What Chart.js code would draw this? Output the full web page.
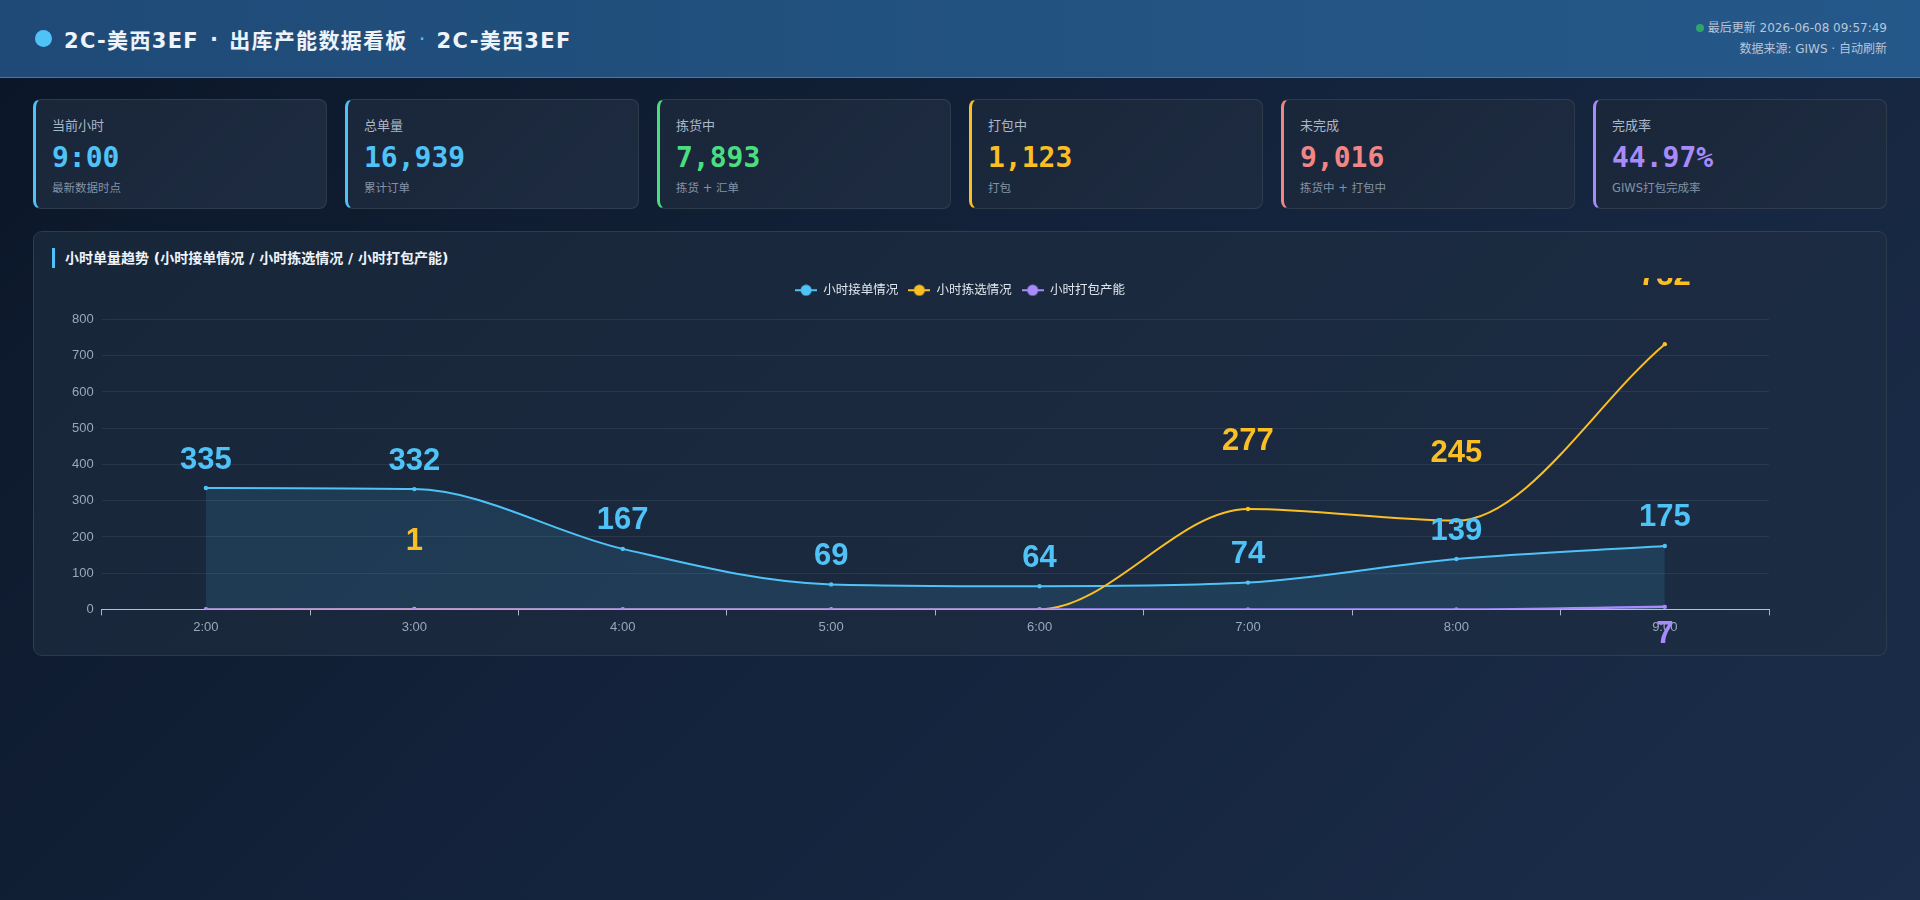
<!DOCTYPE html>
<html lang="zh-CN">
<head>
<meta charset="utf-8">
<title>出库产能数据看板</title>
<script src="https://cdn.jsdelivr.net/npm/chart.js@4.4.1/dist/chart.umd.min.js"></script>
<style>
  * { box-sizing: border-box; margin: 0; padding: 0; }
  html, body { width: 1920px; height: 900px; overflow: hidden; }
  body {
    font-family: "DejaVu Sans", "Noto Sans CJK SC", sans-serif;
    background: linear-gradient(135deg, #0b1627 0%, #13223a 45%, #1b2d4a 100%);
    color: #e2e8f0;
  }
  .header {
    height: 78px;
    background: linear-gradient(90deg, #1f4a78 0%, #22527f 50%, #25588a 100%);
    border-bottom: 1px solid rgba(120, 170, 220, 0.45);
    display: flex; align-items: center; justify-content: space-between;
    padding: 0 33px 0 35px;
  }
  .title { display: flex; align-items: center; font-size: 21px; font-weight: bold; color: #eef3f9; letter-spacing: 1.3px; }
  .title .dot { width: 17px; height: 17px; border-radius: 50%; background: #4fc3f7; margin-right: 12px; }
  .title .sep { font-weight: normal; margin: 0 10px 0 11px; }
  .title .sep1 { color: #e6edf5; font-weight: bold; }
  .title .sep2 { color: #4fc3f7; }
  .meta { text-align: right; font-size: 12px; color: #b7c6d8; line-height: 21px; margin-top: 0px; }
  .meta .g { display: inline-block; width: 8px; height: 8px; border-radius: 50%; background: #2fa56e; margin-right: 4px; vertical-align: 0px; }
  .cards { display: flex; gap: 18px; padding: 21px 33px 0 33px; }
  .card {
    width: 294px; height: 110px; border-radius: 8px;
    background: linear-gradient(135deg, #1a2639 0%, #1d2b41 100%);
    border: 1px solid rgba(255,255,255,0.09);
    border-left: 3px solid #4fc3f7;
    padding: 18px 0 0 16px;
  }
  .card .lab { font-size: 13px; line-height: 16px; color: #aab8c9; }
  .card .val { font-family: "DejaVu Sans Mono", monospace; font-weight: bold; font-size: 28px; line-height: 32px; margin-top: 8px; }
  .card .sub { font-size: 11.5px; line-height: 16px; color: #8293a8; margin-top: 6px; }
  .panel {
    margin: 22px 33px 0 33px; height: 425px; border-radius: 9px;
    background: linear-gradient(135deg, #182639 0%, #1c2c43 100%);
    border: 1px solid rgba(255,255,255,0.09);
    padding: 16px 18px 0 18px;
  }
  .ptitle { height: 20px; line-height: 20px; border-left: 3px solid #4fc3f7; padding-left: 10px; font-size: 14px; font-weight: bold; color: #eef3f9; }
  .cwrap { position: relative; width: 1816px; height: 372px; margin-top: 10px; }
</style>
</head>
<body>
<div class="header">
  <div class="title"><span class="dot"></span>2C-美西3EF<span class="sep sep1">·</span>出库产能数据看板<span class="sep sep2">·</span>2C-美西3EF</div>
  <div class="meta">
    <div><span class="g"></span>最后更新 2026-06-08 09:57:49</div>
    <div>数据来源: GIWS · 自动刷新</div>
  </div>
</div>
<div class="cards">
  <div class="card" style="border-left-color:#4fc3f7"><div class="lab">当前小时</div><div class="val" style="color:#4fc3f7">9:00</div><div class="sub">最新数据时点</div></div>
  <div class="card" style="border-left-color:#4fc3f7"><div class="lab">总单量</div><div class="val" style="color:#4fc3f7">16,939</div><div class="sub">累计订单</div></div>
  <div class="card" style="border-left-color:#4ade80"><div class="lab">拣货中</div><div class="val" style="color:#4ade80">7,893</div><div class="sub">拣货 + 汇单</div></div>
  <div class="card" style="border-left-color:#fbbf24"><div class="lab">打包中</div><div class="val" style="color:#fbbf24">1,123</div><div class="sub">打包</div></div>
  <div class="card" style="border-left-color:#f28585"><div class="lab">未完成</div><div class="val" style="color:#f28585">9,016</div><div class="sub">拣货中 + 打包中</div></div>
  <div class="card" style="border-left-color:#a78bfa"><div class="lab">完成率</div><div class="val" style="color:#a78bfa">44.97%</div><div class="sub">GIWS打包完成率</div></div>
</div>
<div class="panel">
  <div class="ptitle">小时单量趋势 (小时接单情况 / 小时拣选情况 / 小时打包产能)</div>
  <div class="cwrap"><canvas id="c"></canvas></div>
</div>
<script>
const hours = ['2:00', '3:00', '4:00', '5:00', '6:00', '7:00', '8:00', '9:00'];
const hourlyOrders = [335, 332, 167, 69, 64, 74, 139, 175];
const hourlyPicked = [0, 1, 0, 0, 0, 277, 245, 732];
const hourlyPacked = [0, 0, 0, 0, 0, 0, 0, 7];
const yTicks = [0, 100, 200, 300, 400, 500, 600, 700, 800];

const seriesNames = ['小时接单情况', '小时拣选情况', '小时打包产能'];
const seriesColors = ['#4fc3f7', '#fbbf24', '#a78bfa'];

function legendMarker(color) {
  const c = document.createElement('canvas');
  c.width = 22; c.height = 12;
  const x = c.getContext('2d');
  x.strokeStyle = color; x.lineWidth = 2;
  x.beginPath(); x.moveTo(0, 6); x.lineTo(22, 6); x.stroke();
  x.fillStyle = color;
  x.beginPath(); x.arc(11, 6, 5.5, 0, Math.PI * 2); x.fill();
  return c;
}
const markers = seriesColors.map(legendMarker);

const valueLabels = {
  id: 'valueLabels',
  afterDatasetsDraw(chart) {
    const ctx = chart.ctx;
    ctx.save();
    ctx.font = 'bold 31px "Liberation Sans", Arial, sans-serif';
    ctx.textAlign = 'center';
    chart.data.datasets.forEach((ds, i) => {
      const meta = chart.getDatasetMeta(i);
      if (meta.hidden) return;
      meta.data.forEach((pt, j) => {
        const v = ds.data[j];
        if (!(v > 0)) return;
        ctx.fillStyle = ds.borderColor;
        if (ds.labelBelow) {
          ctx.textBaseline = 'top';
          ctx.fillText(String(v), pt.x, pt.y + ds.labelGap);
        } else {
          ctx.textBaseline = 'alphabetic';
          ctx.fillText(String(v), pt.x, pt.y - ds.labelGap);
        }
      });
    });
    ctx.restore();
  }
};

const legendSpacing = {
  id: 'legendSpacing',
  beforeInit(chart) {
    const origFit = chart.legend.fit;
    chart.legend.fit = function () {
      origFit.bind(chart.legend)();
      this.height += 13;
    };
  }
};

new Chart(document.getElementById('c'), {
  type: 'line',
  data: {
    labels: hours,
    datasets: [
      {
        label: seriesNames[0], data: hourlyOrders,
        borderColor: seriesColors[0], backgroundColor: 'rgba(79,195,247,0.13)',
        fill: 'origin', borderWidth: 2, pointRadius: 2.2, pointBackgroundColor: seriesColors[0],
        pointBorderWidth: 0, cubicInterpolationMode: 'monotone', order: 2,
        labelGap: 19.5, labelBelow: false
      },
      {
        label: seriesNames[1], data: hourlyPicked,
        borderColor: seriesColors[1], backgroundColor: seriesColors[1],
        fill: false, borderWidth: 2, pointRadius: 2.2, pointBackgroundColor: seriesColors[1],
        pointBorderWidth: 0, cubicInterpolationMode: 'monotone', order: 1,
        labelGap: 59, labelBelow: false
      },
      {
        label: seriesNames[2], data: hourlyPacked,
        borderColor: seriesColors[2], backgroundColor: seriesColors[2],
        fill: false, borderWidth: 2.5, pointRadius: 2.2, pointBackgroundColor: seriesColors[2],
        pointBorderWidth: 0, cubicInterpolationMode: 'monotone', order: 0,
        labelGap: 12, labelBelow: true
      }
    ]
  },
  options: {
    responsive: true, maintainAspectRatio: false, animation: false,
    layout: { padding: { left: 0, right: 0, top: -4, bottom: 11 } },
    plugins: {
      tooltip: { enabled: false },
      legend: {
        position: 'top', align: 'center',
        labels: {
          color: '#dfe6ee', font: { size: 12.5, family: '"Liberation Sans", "Noto Sans CJK SC", sans-serif' },
          usePointStyle: true, pointStyleWidth: 22, padding: 10,
          generateLabels(chart) {
            return chart.data.datasets.map((ds, i) => ({
              text: ds.label, fillStyle: ds.borderColor, strokeStyle: ds.borderColor,
              fontColor: '#dfe6ee', pointStyle: markers[i], lineWidth: 0,
              hidden: !chart.isDatasetVisible(i), datasetIndex: i
            }));
          }
        }
      }
    },
    scales: {
      x: {
        offset: true,
        grid: { offset: true, drawOnChartArea: false, drawTicks: true, tickLength: 6, color: 'rgba(220,225,240,0.75)' },
        border: { display: true, color: 'rgba(220,225,240,0.8)', width: 1 },
        ticks: { color: '#9aa8ba', font: { size: 13 }, padding: 4 }
      },
      y: {
        min: 0, max: 800,
        afterBuildTicks(axis) { axis.ticks = yTicks.map(v => ({ value: v })); },
        afterFit(axis) { axis.width += 12; },
        grid: { color: 'rgba(255,255,255,0.07)', drawTicks: false },
        border: { display: false },
        ticks: { color: '#9aa8ba', font: { size: 13 }, padding: 8 }
      },
      ySpacer: {
        position: 'right', min: 0, max: 800,
        grid: { display: false, drawTicks: false },
        border: { display: false },
        ticks: { display: false },
        afterFit(axis) { axis.width = 99; }
      }
    }
  },
  plugins: [valueLabels, legendSpacing]
});
</script>
</body>
</html>
